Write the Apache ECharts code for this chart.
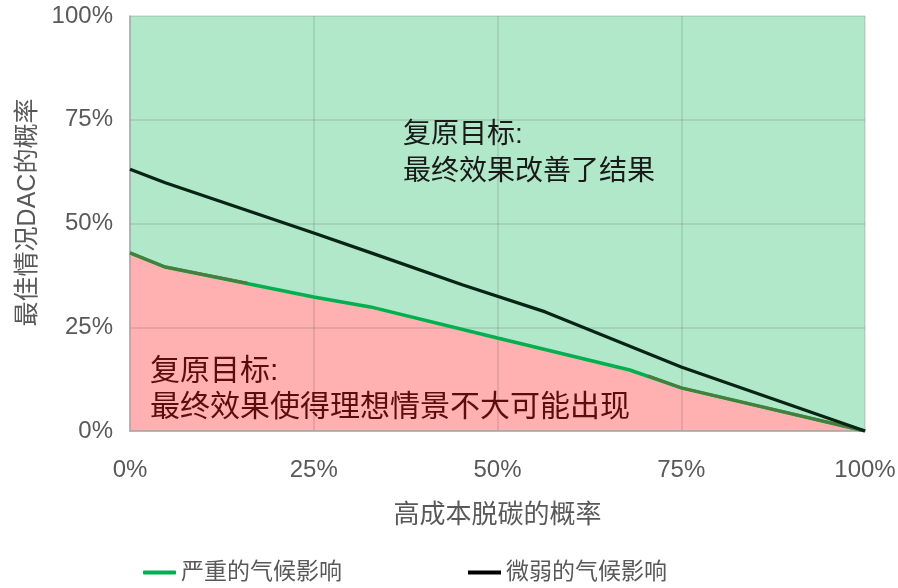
<!DOCTYPE html>
<html>
<head>
<meta charset="utf-8">
<script src="https://cdn.jsdelivr.net/npm/echarts@6/dist/echarts.min.js"></script>
<style>
  html, body { margin: 0; padding: 0; background: #ffffff; }
  #chart { width: 898px; height: 588px; }
</style>
</head>
<body>
<div id="chart"></div>
<script>
// Probability of high-cost decarbonisation (x, %) vs probability of best-case DAC (y, %)
const xTicks = [0, 25, 50, 75, 100];
const yTicks = [0, 25, 50, 75, 100];

const severeName = '严重的气候影响';
const mildName = '微弱的气候影响';

// Severe climate impact curve
const severePoints = [
  [0, 42.9], [4.8, 39.5], [25, 32.3], [32.7, 29.9],
  [50, 22.4], [68, 14.7], [75, 10.4], [100, 0]
];

// Mild climate impact curve
const mildPoints = [
  [0, 63.1], [4.8, 59.8], [25, 47.7], [33, 42.8],
  [45.3, 35.2], [56.5, 28.7], [75, 15.4], [100, 0]
];

// Darker edges of the red region where it peeks out above the severe curve
const edgeHead = [[0, 42.9], [4.8, 39.5], [16, 35.6]];
const edgeTail = [[70.5, 13.3], [75, 10.4], [100, 0]];

const greenNote = ['复原目标:', '最终效果改善了结果'];
const redNote = ['复原目标:', '最终效果使得理想情景不大可能出现'];

const FONT = '"Liberation Sans", "Noto Sans CJK SC", sans-serif';
const GRAY = '#595959';

const chart = echarts.init(document.getElementById('chart'), null, { renderer: 'canvas' });

chart.setOption({
  animation: false,
  textStyle: { fontFamily: FONT },
  grid: {
    left: 130, right: 33, top: 16, bottom: 157,
    outerBoundsMode: 'none', containLabel: false,
    show: true, backgroundColor: '#b1e8c9', borderWidth: 0
  },
  legend: {
    data: [
      { name: severeName, icon: 'roundRect', itemStyle: { color: '#00b050' } },
      { name: mildName, icon: 'rect', itemStyle: { color: '#000000' } }
    ],
    left: 138, top: 556,
    itemWidth: 33, itemHeight: 4, itemGap: 126,
    textStyle: { fontSize: 23, color: GRAY, fontFamily: FONT }
  },
  xAxis: {
    type: 'value', min: xTicks[0], max: xTicks[xTicks.length - 1], interval: 25,
    z: 3,
    name: '高成本脱碳的概率', nameLocation: 'middle', nameGap: 72,
    nameTextStyle: { fontSize: 26, color: GRAY, fontFamily: FONT },
    axisLine: { show: true, lineStyle: { color: '#a8a8a8', width: 1.5 } },
    axisTick: { show: false },
    axisLabel: { formatter: '{value}%', fontSize: 24, color: GRAY, margin: 27, fontFamily: FONT },
    splitLine: { show: true, lineStyle: { color: 'rgba(90,90,90,0.2)', width: 1.5 } }
  },
  yAxis: {
    type: 'value', min: yTicks[0], max: yTicks[yTicks.length - 1], interval: 25,
    z: 3,
    name: '最佳情况DAC的概率', nameLocation: 'middle', nameGap: 87,
    nameTextStyle: { fontSize: 25, color: GRAY, fontFamily: FONT, padding: [0, 0, 0, 22] },
    axisLine: { show: true, lineStyle: { color: '#a8a8a8', width: 1.5 } },
    axisTick: { show: false },
    axisLabel: { formatter: '{value}%', fontSize: 24, color: GRAY, margin: 17, fontFamily: FONT },
    splitLine: { show: true, lineStyle: { color: 'rgba(90,90,90,0.2)', width: 1.5 } }
  },
  series: [
    {
      name: 'red-region', type: 'line', data: severePoints,
      symbol: 'none', z: 2, silent: true,
      lineStyle: { width: 0 },
      areaStyle: { color: '#ffb0b0', opacity: 1 }
    },
    {
      name: severeName, type: 'line', data: severePoints,
      symbol: 'none', z: 5,
      itemStyle: { color: '#00b050' },
      lineStyle: { color: '#00b050', width: 3.5 }
    },
    {
      name: 'edge-head', type: 'line', data: edgeHead,
      symbol: 'none', z: 6, silent: true,
      lineStyle: { color: '#4d7b3c', width: 3 }
    },
    {
      name: 'edge-tail', type: 'line', data: edgeTail,
      symbol: 'none', z: 6, silent: true,
      lineStyle: { color: '#4d7b3c', width: 3 }
    },
    {
      name: mildName, type: 'line', data: mildPoints,
      symbol: 'none', z: 7,
      itemStyle: { color: '#000000' },
      lineStyle: { color: '#082414', width: 3.2 }
    }
  ],
  graphic: [
    {
      type: 'text', left: 403, top: 117, z: 10,
      style: {
        text: greenNote.join('\n'), fill: '#1a1a1a',
        font: '28px ' + FONT, lineHeight: 37
      }
    },
    {
      type: 'text', left: 150, top: 354, z: 10,
      style: {
        text: redNote.join('\n'), fill: '#5a0d0d',
        font: '30px ' + FONT, lineHeight: 36
      }
    }
  ]
});
</script>
</body>
</html>
